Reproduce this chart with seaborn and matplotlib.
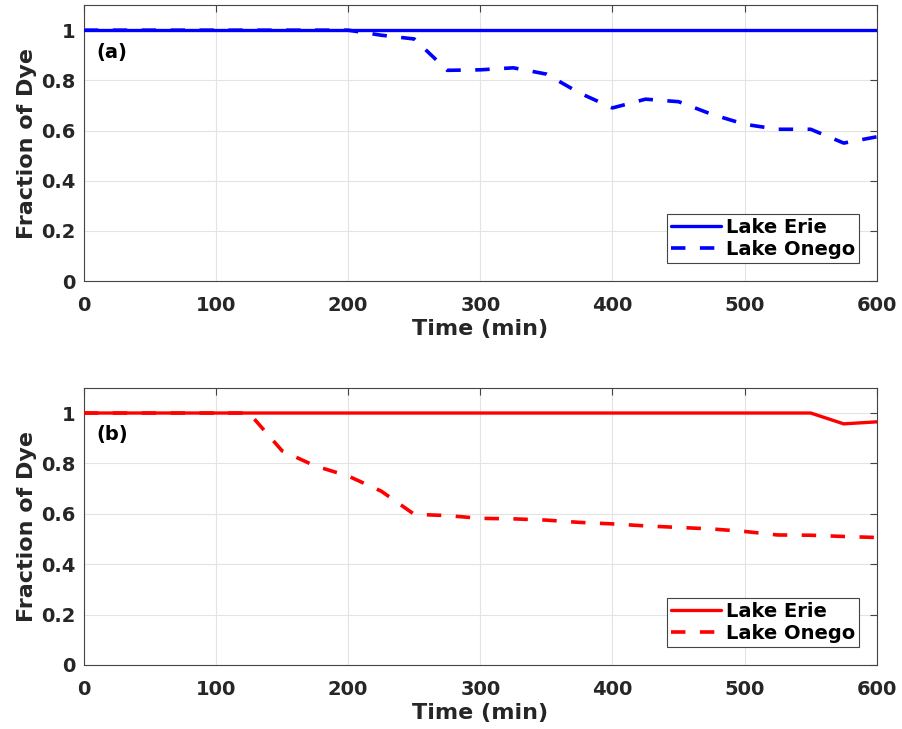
import numpy as np
import pandas as pd
import matplotlib
matplotlib.use("Agg")
import matplotlib.pyplot as plt
import seaborn as sns

# time axis (min)
time_min = [0, 25, 50, 75, 100, 125, 150, 175, 200, 225, 250, 275, 300,
            325, 350, 375, 400, 425, 450, 475, 500, 525, 550, 575, 600]

# panel (a)
erie_a = [1.0] * 25
onego_a = [1.0, 1.0, 1.0, 1.0, 1.0, 1.0, 1.0, 1.0, 1.0, 0.98, 0.965, 0.84, 0.842,
           0.85, 0.825, 0.75, 0.69, 0.725, 0.715, 0.665, 0.625, 0.605, 0.605, 0.55, 0.575]

# panel (b)
erie_b = [1.0, 1.0, 1.0, 1.0, 1.0, 1.0, 1.0, 1.0, 1.0, 1.0, 1.0, 1.0, 1.0,
          1.0, 1.0, 1.0, 1.0, 1.0, 1.0, 1.0, 1.0, 1.0, 1.0, 0.957, 0.965]
onego_b = [1.0, 1.0, 1.0, 1.0, 1.0, 1.0, 0.85, 0.79, 0.75, 0.69, 0.598, 0.593, 0.582,
           0.58, 0.575, 0.566, 0.56, 0.552, 0.546, 0.54, 0.53, 0.516, 0.515, 0.51, 0.506]

panels = [("(a)", erie_a, onego_a, "blue"), ("(b)", erie_b, onego_b, "red")]

sns.set_style("white")
plt.rcParams['font.family'] = ['DejaVu Sans']
plt.rcParams['font.weight'] = 'bold'
plt.rcParams['axes.labelweight'] = 'bold'

fig = plt.figure(figsize=(9.02, 7.29), dpi=100)
ax_top = fig.add_axes([0.093, 0.6145, 0.879, 0.3785])
ax_bot = fig.add_axes([0.093, 0.0878, 0.879, 0.3802])

for ax, (tag, erie, onego, col) in zip([ax_top, ax_bot], panels):
    df = pd.DataFrame({"Time": time_min, "Erie": erie, "Onego": onego})
    sns.lineplot(data=df, x="Time", y="Erie", ax=ax, color=col, lw=2.4,
                 label="Lake Erie", zorder=3)
    sns.lineplot(data=df, x="Time", y="Onego", ax=ax, color=col, lw=2.6,
                 linestyle=(0, (4, 4)), label="Lake Onego", zorder=2)
    ax.set_xlim(0, 600)
    ax.set_ylim(0, 1.1)
    ax.set_xticks([0, 100, 200, 300, 400, 500, 600])
    ax.set_yticks([0, 0.2, 0.4, 0.6, 0.8, 1])
    ax.set_yticklabels(["0", "0.2", "0.4", "0.6", "0.8", "1"])
    ax.grid(True, color="#e3e3e3", lw=0.8)
    ax.tick_params(direction="in", right=True, top=True, length=5,
                   labelsize=14, color="#444444", width=0.8)
    ax.tick_params(axis="x", pad=11)
    ax.tick_params(axis="y", pad=6)
    for lab in ax.get_xticklabels() + ax.get_yticklabels():
        lab.set_fontweight("bold")
        lab.set_color("#262626")
    for s in ax.spines.values():
        s.set_color("#444444")
        s.set_linewidth(0.8)
    ax.set_xlabel("Time (min)", fontsize=16, fontweight="bold", labelpad=3, color="#262626")
    ax.set_ylabel("Fraction of Dye", fontsize=16, fontweight="bold", labelpad=3, color="#262626")
    ax.text(0.016, 0.81, tag, transform=ax.transAxes, fontsize=14, fontweight="bold",
            va="baseline", color="black")
    leg = ax.legend(loc="lower right", bbox_to_anchor=(0.978, 0.065),
                    frameon=True, fancybox=False, framealpha=1, handlelength=2.6,
                    borderpad=0.2, labelspacing=0.15, handletextpad=0.25,
                    borderaxespad=0.0, prop={"weight": "bold", "size": 14})
    for t in leg.get_texts():
        t.set_color("black")
    leg.get_frame().set_edgecolor("#444444")
    leg.get_frame().set_linewidth(0.8)

fig.savefig("out.png", dpi=100)
